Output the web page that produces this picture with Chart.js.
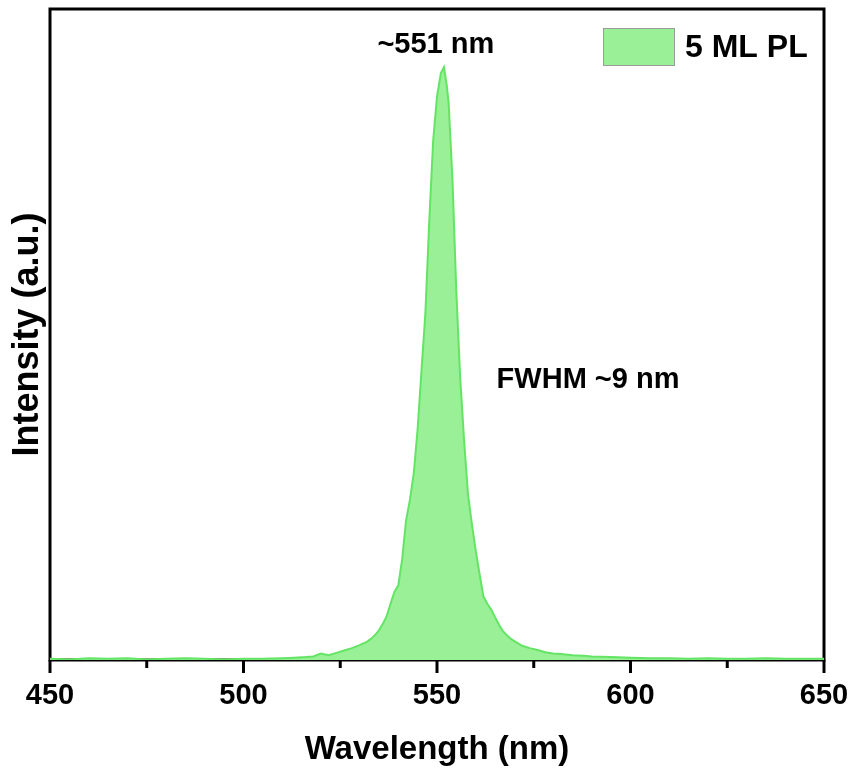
<!DOCTYPE html>
<html>
<head>
<meta charset="utf-8">
<script src="https://cdn.jsdelivr.net/npm/chart.js@4"></script>
<style>
  html, body { margin: 0; padding: 0; background: #ffffff; overflow: hidden; }
  #wrap { width: 851px; height: 770px; }
</style>
</head>
<body>
<div id="wrap"><canvas id="pl"></canvas></div>
<script>
// Photoluminescence spectrum of the 5 ML sample
const wavelengths = [
  450, 455, 460, 465, 470, 475, 480, 485, 490, 495, 500, 505, 510, 513, 516, 518,
  520, 522, 524, 526, 528, 530, 532, 533, 534, 535, 536, 537, 538, 539, 540, 541,
  542, 543, 544, 545, 546, 547, 548, 549, 550, 551, 551.8, 552.5, 553, 554, 555, 556,
  557, 558, 559, 560, 561, 562, 563, 564, 565, 566, 567, 568, 569, 570, 572, 574,
  576, 578, 580, 582, 585, 588, 590, 595, 600, 605, 610, 615, 620, 625, 630, 635,
  640, 645, 650
];
const intensities = [
  0.002, 0.001, 0.003, 0.002, 0.003, 0.001, 0.002, 0.003, 0.002, 0.001, 0.002, 0.002, 0.003, 0.004, 0.005, 0.006,
  0.011, 0.008, 0.012, 0.016, 0.020, 0.025, 0.031, 0.036, 0.042, 0.050, 0.061, 0.074, 0.095, 0.115, 0.126, 0.170,
  0.235, 0.270, 0.315, 0.390, 0.489, 0.585, 0.740, 0.875, 0.950, 0.990, 1.000, 0.970, 0.940, 0.810, 0.620, 0.475,
  0.370, 0.280, 0.230, 0.185, 0.145, 0.107, 0.095, 0.085, 0.072, 0.060, 0.049, 0.042, 0.036, 0.032, 0.024, 0.020,
  0.017, 0.013, 0.011, 0.010, 0.008, 0.007, 0.006, 0.005, 0.004, 0.003, 0.003, 0.002, 0.003, 0.002, 0.002, 0.003,
  0.002, 0.002, 0.002
];
const xTickValues = [450, 500, 550, 600, 650];
const seriesLabel = '5 ML PL';
const peakLabel = '~551 nm';
const widthLabel = 'FWHM ~9 nm';

const FONT = '"Liberation Sans", Arial, Helvetica, sans-serif';
const FILL = 'rgb(153, 240, 150)';
const LINE = 'rgb(100, 228, 100)';

// Closed frame around the plot area plus long/short tick marks on the x axis
const framePlugin = {
  id: 'frame',
  beforeDatasetsDraw(chart) {
    const { ctx, chartArea: a, scales: { x } } = chart;
    ctx.save();
    ctx.strokeStyle = '#000';
    ctx.lineWidth = 3;
    ctx.strokeRect(a.left, a.top, a.right - a.left, a.bottom - a.top);
    x.ticks.forEach(t => {
      const px = x.getPixelForValue(t.value);
      const len = xTickValues.includes(t.value) ? 13 : 8;
      ctx.beginPath();
      ctx.moveTo(px, a.bottom);
      ctx.lineTo(px, a.bottom + len);
      ctx.stroke();
    });
    ctx.restore();
  }
};

// Peak position / linewidth notes and the series key in the upper right corner
const notesPlugin = {
  id: 'notes',
  afterDraw(chart) {
    const { ctx, chartArea: a, scales: { x, y } } = chart;
    ctx.save();
    ctx.fillStyle = '#000';
    ctx.font = 'bold 29px ' + FONT;
    ctx.textBaseline = 'middle';
    ctx.textAlign = 'center';
    ctx.fillText(peakLabel, x.getPixelForValue(549.7), y.getPixelForValue(1.037));
    ctx.textAlign = 'left';
    ctx.fillText(widthLabel, x.getPixelForValue(565.4), y.getPixelForValue(0.472));

    // key: swatch + label
    const bx = a.right - 221, by = a.top + 19, bw = 72, bh = 38;
    ctx.fillStyle = FILL;
    ctx.fillRect(bx, by, bw, bh);
    ctx.strokeStyle = '#9a9a9a';
    ctx.lineWidth = 1;
    ctx.strokeRect(bx + 0.5, by + 0.5, bw - 1, bh - 1);
    ctx.fillStyle = '#000';
    ctx.font = 'bold 32px ' + FONT;
    ctx.textAlign = 'left';
    ctx.fillText(seriesLabel, bx + bw + 10, by + bh / 2 + 1);
    ctx.restore();
  }
};

new Chart(document.getElementById('pl'), {
  type: 'line',
  data: {
    datasets: [{
      label: seriesLabel,
      data: wavelengths.map((w, i) => ({ x: w, y: intensities[i] })),
      borderColor: LINE,
      backgroundColor: FILL,
      borderWidth: 2,
      fill: 'origin',
      pointRadius: 0,
      tension: 0
    }]
  },
  options: {
    responsive: true,
    maintainAspectRatio: false,
    animation: false,
    layout: { padding: { top: 9, right: 27, left: 0, bottom: 0 } },
    plugins: {
      tooltip: { enabled: false },
      legend: { display: false }
    },
    scales: {
      x: {
        type: 'linear',
        min: 450,
        max: 650,
        border: { display: false },
        grid: { drawOnChartArea: false, tickLength: 13, tickColor: 'transparent' },
        ticks: {
          stepSize: 25,
          autoSkip: false,
          maxRotation: 0,
          padding: 6,
          color: '#000',
          font: { family: FONT, size: 29, weight: 'bold' },
          callback: v => (xTickValues.includes(v) ? String(v) : '')
        },
        title: {
          display: true,
          text: 'Wavelength (nm)',
          color: '#000',
          font: { family: FONT, size: 33, weight: 'bold' },
          padding: { top: 10, bottom: 0 }
        },
        afterFit(scale) {
          scale.height = 110;
          scale.paddingLeft = 0;
          scale.paddingRight = 0;
        }
      },
      y: {
        min: 0,
        max: 1.098,
        border: { display: false },
        grid: { display: false },
        ticks: { display: false },
        title: {
          display: true,
          text: 'Intensity (a.u.)',
          color: '#000',
          font: { family: FONT, size: 36, weight: 'bold' },
          padding: { top: 6, bottom: 0 }
        },
        afterFit(scale) { scale.width = 50; }
      }
    }
  },
  plugins: [framePlugin, notesPlugin]
});
</script>
</body>
</html>
